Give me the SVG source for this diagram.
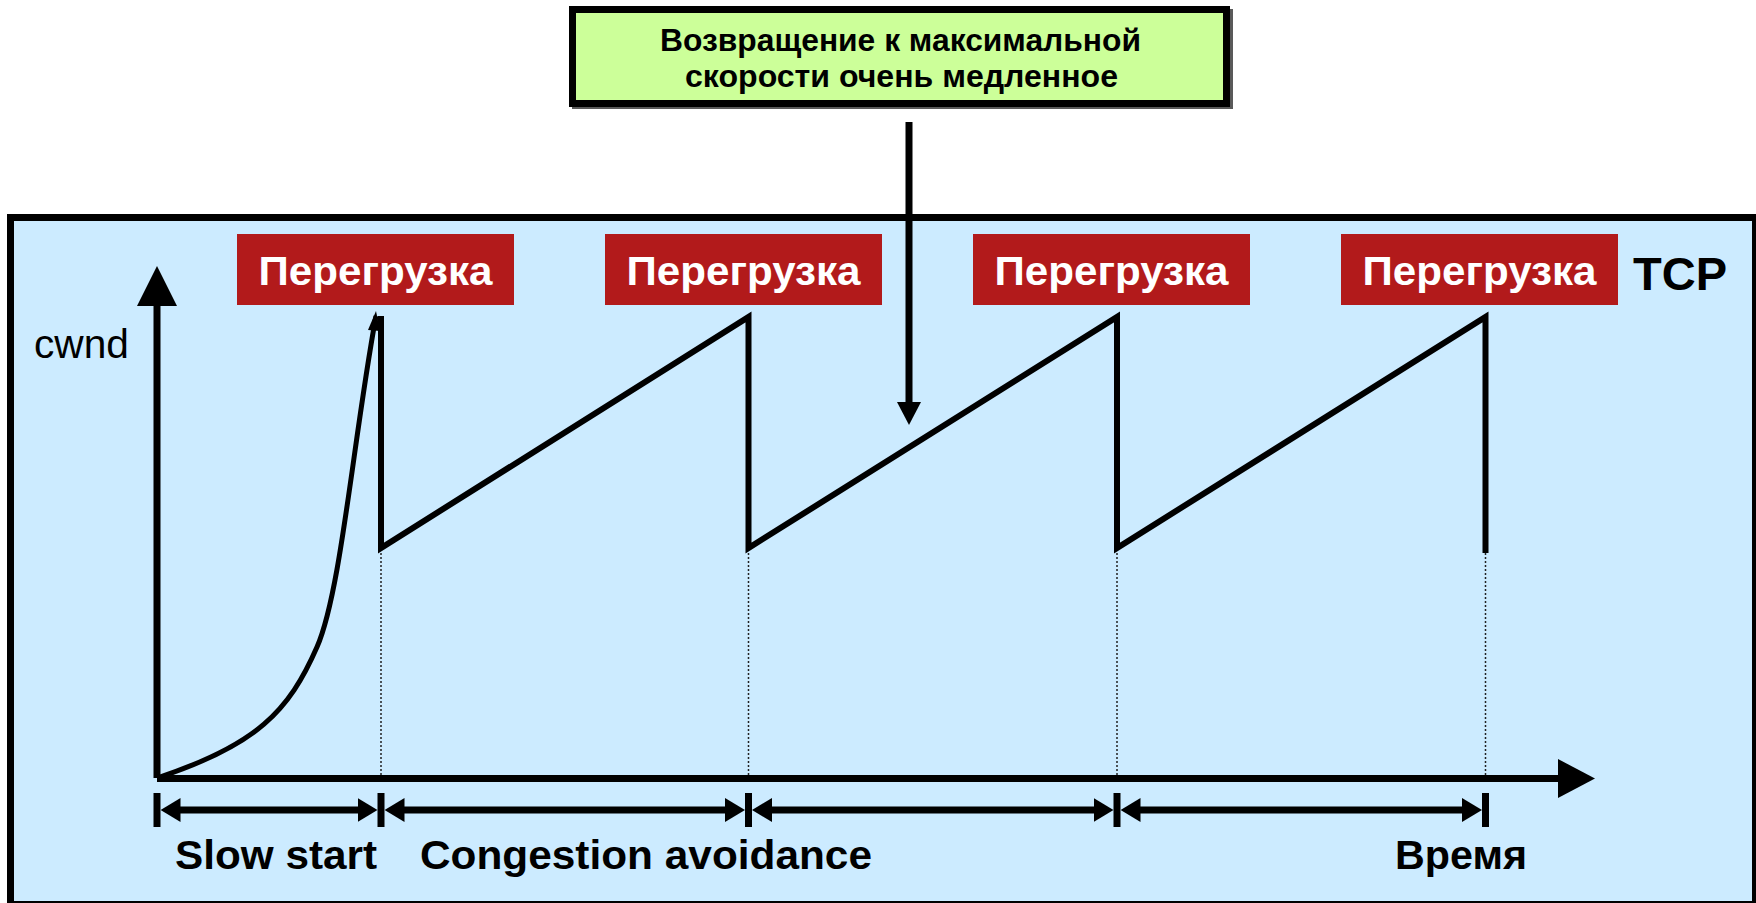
<svg xmlns="http://www.w3.org/2000/svg" width="1756" height="903" viewBox="0 0 1756 903">
  <style>
    .frame { fill: #CCEBFF; stroke: #000; stroke-width: 7; }
    .note { fill: #CCFF99; stroke: #000; stroke-width: 7; }
    .shadow { fill: #5a5a5a; }
    .note-text { font-family: "Liberation Sans", Arial, sans-serif; font-weight: bold; font-size: 32px; fill: #000; }
    .event { fill: #B21A1B; }
    .event-text { font-family: "Liberation Sans", Arial, sans-serif; font-weight: bold; font-size: 41px; fill: #fff; }
    .axis { stroke: #000; stroke-width: 7; fill: none; }
    .head { fill: #000; }
    .graph { stroke: #000; stroke-width: 6; fill: none; stroke-linejoin: miter; stroke-miterlimit: 10; }
    .curve { stroke: #000; stroke-width: 5; fill: none; }
    .guide { stroke: #222; stroke-width: 1.5; stroke-dasharray: 2 2; fill: none; }
    .span { stroke: #000; stroke-width: 7; fill: none; marker-start: url(#span-head); marker-end: url(#span-head); }
    .tick { stroke: #000; stroke-width: 7; }
    .label { font-family: "Liberation Sans", Arial, sans-serif; font-weight: bold; font-size: 41px; fill: #000; }
    .axis-label { font-family: "Liberation Sans", Arial, sans-serif; font-size: 41px; fill: #000; }
    .title { font-family: "Liberation Sans", Arial, sans-serif; font-weight: bold; font-size: 47px; fill: #000; }
  </style>
  <defs>
    <marker id="span-head" viewBox="0 -12 20 24" refX="10" refY="0" markerWidth="20" markerHeight="24" markerUnits="userSpaceOnUse" orient="auto-start-reverse">
      <path d="M0,-12 L20,0 L0,12 Z" fill="#000"/>
    </marker>
  </defs>

  <!-- chart panel -->
  <g id="panel">
    <rect class="frame" x="10.5" y="217.5" width="1745" height="687"/>
    <text class="title" x="1633" y="290" textLength="94" lengthAdjust="spacingAndGlyphs">TCP</text>
  </g>

  <!-- callout note -->
  <g id="note">
    <rect class="shadow" x="572" y="9" width="661" height="100"/>
    <rect class="note" x="572.5" y="9.5" width="654" height="94"/>
    <text class="note-text" x="660" y="51" textLength="481" lengthAdjust="spacingAndGlyphs">Возвращение к максимальной</text>
    <text class="note-text" x="685" y="87" textLength="433" lengthAdjust="spacingAndGlyphs">скорости очень медленное</text>
  </g>

  <!-- congestion events -->
  <g id="event-1">
    <rect class="event" x="237" y="234" width="277" height="71"/>
    <text class="event-text" x="258.5" y="285" textLength="234" lengthAdjust="spacingAndGlyphs">Перегрузка</text>
  </g>
  <g id="event-2">
    <rect class="event" x="605" y="234" width="277" height="71"/>
    <text class="event-text" x="626.5" y="285" textLength="234" lengthAdjust="spacingAndGlyphs">Перегрузка</text>
  </g>
  <g id="event-3">
    <rect class="event" x="973" y="234" width="277" height="71"/>
    <text class="event-text" x="994.5" y="285" textLength="234" lengthAdjust="spacingAndGlyphs">Перегрузка</text>
  </g>
  <g id="event-4">
    <rect class="event" x="1341" y="234" width="277" height="71"/>
    <text class="event-text" x="1362.5" y="285" textLength="234" lengthAdjust="spacingAndGlyphs">Перегрузка</text>
  </g>

  <!-- axes -->
  <g id="axes">
    <line class="axis" x1="157" y1="300" x2="157" y2="778"/>
    <polygon class="head" points="157,266 177,306 137,306"/>
    <line class="axis" x1="157" y1="778.5" x2="1562" y2="778.5"/>
    <polygon class="head" points="1595,778.5 1558,759 1558,798"/>
    <text class="axis-label" x="34" y="358" textLength="95" lengthAdjust="spacingAndGlyphs">cwnd</text>
  </g>

  <!-- cwnd trace: slow start, then additive increase / halving -->
  <g id="cwnd-trace">
    <path class="curve" d="M157,778 C257,745 289,711 317,647 C341,592 353,441 376,316"/>
    <polygon class="head" points="376,311 368,330 380,331"/>
    <polyline class="graph" points="381,316 381,548 748.5,317 748.5,548 1117,317 1117,548 1485.5,317 1485.5,553"/>
    <line class="guide" x1="381" y1="553" x2="381" y2="776"/>
    <line class="guide" x1="748.5" y1="553" x2="748.5" y2="776"/>
    <line class="guide" x1="1117" y1="553" x2="1117" y2="776"/>
    <line class="guide" x1="1485.5" y1="553" x2="1485.5" y2="776"/>
  </g>

  <!-- phase spans under the time axis -->
  <g id="phases">
    <line class="tick" x1="157" y1="793" x2="157" y2="827"/>
    <line class="tick" x1="381" y1="793" x2="381" y2="827"/>
    <line class="tick" x1="748.5" y1="793" x2="748.5" y2="827"/>
    <line class="tick" x1="1117" y1="793" x2="1117" y2="827"/>
    <line class="tick" x1="1485.5" y1="793" x2="1485.5" y2="827"/>
    <text class="label" x="175" y="869" textLength="202" lengthAdjust="spacingAndGlyphs">Slow start</text>
    <text class="label" x="420" y="869" textLength="452" lengthAdjust="spacingAndGlyphs">Congestion avoidance</text>
    <text class="label" x="1395" y="869" textLength="132" lengthAdjust="spacingAndGlyphs">Время</text>
  </g>

  <!-- connectors -->
  <g id="connectors">
    <line class="span" x1="170.5" y1="810" x2="367.5" y2="810"/>
    <line class="span" x1="394.5" y1="810" x2="735" y2="810"/>
    <line class="span" x1="762" y1="810" x2="1103.5" y2="810"/>
    <line class="span" x1="1130.5" y1="810" x2="1472" y2="810"/>
    <line class="axis" x1="909" y1="122" x2="909" y2="404"/>
    <polygon class="head" points="897,402 921,402 909,425"/>
  </g>
</svg>
